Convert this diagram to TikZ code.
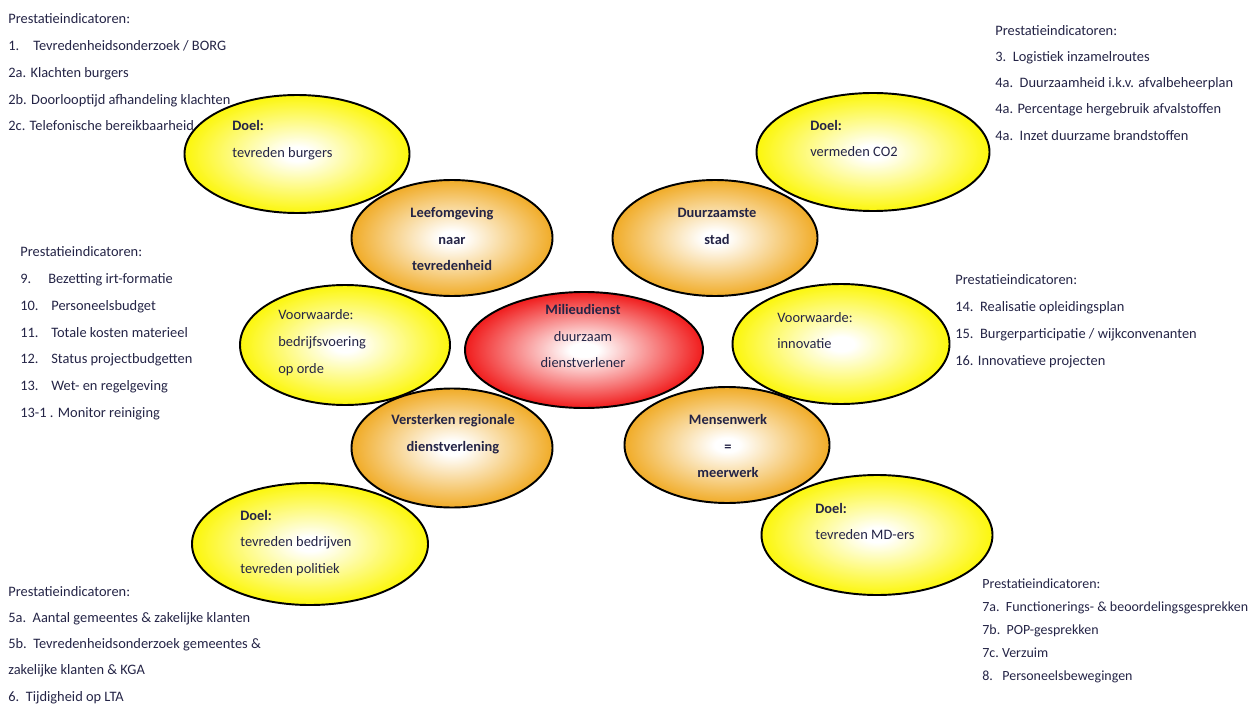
\documentclass[tikz,border=0pt]{standalone}
\usepackage{fontspec}
\setmainfont{Carlito}
\usetikzlibrary{shapes.geometric}

\definecolor{txt}{RGB}{36,36,70}
\definecolor{geel}{RGB}{252,246,0}
\definecolor{oranje}{RGB}{240,168,30}
\definecolor{rood}{RGB}{240,18,18}
\pgfdeclareradialshading{geelglow}{\pgfpointorigin}{color(0bp)=(white); color(3bp)=(white); color(26bp)=(geel); color(50bp)=(geel)}
\pgfdeclareradialshading{oranjeglow}{\pgfpointorigin}{color(0bp)=(white); color(3bp)=(white); color(26bp)=(oranje); color(50bp)=(oranje)}
\pgfdeclareradialshading{roodglow}{\pgfpointorigin}{color(0bp)=(white); color(3bp)=(white); color(26bp)=(rood); color(50bp)=(rood)}

\begin{document}
\begin{tikzpicture}[
    every node/.style={font=\fontsize{8.2}{15.3}\selectfont, text=txt, inner sep=0pt},
    doel/.style={ellipse, draw=black, line width=1.1pt, shade, shading=geelglow},
    thema/.style={ellipse, draw=black, line width=1.1pt, shade, shading=oranjeglow},
    kern/.style={ellipse, draw=black, line width=1.1pt, shade, shading=roodglow},
    lijst/.style={anchor=north west, align=left},
    tekst/.style={anchor=west, align=left},
    kop/.style={align=center, font=\fontsize{8.2}{15.3}\selectfont\bfseries}]
  \useasboundingbox (0,0) rectangle (25.12,-14.12);

  % prestatieindicatoren
  \node[lijst] (pi1) at (0.16,-0.26) {Prestatieindicatoren:\\
    \makebox[0.5cm][l]{1.}Tevredenheidsonderzoek / BORG\\
    2a. Klachten burgers\\
    2b. Doorlooptijd afhandeling klachten\\
    2c. Telefonische bereikbaarheid};
  \node[lijst, font=\fontsize{8.2}{14.9}\selectfont] (pi3) at (19.90,-0.50) {Prestatieindicatoren:\\
    3.\ \ Logistiek inzamelroutes\\
    4a.\ \ Duurzaamheid i.k.v. afvalbeheerplan\\
    4a. Percentage hergebruik afvalstoffen\\
    4a.\ \ Inzet duurzame brandstoffen};
  \node[lijst] (pi9) at (0.40,-4.92) {Prestatieindicatoren:\\
    \makebox[0.56cm][l]{9.}Bezetting irt-formatie\\
    \makebox[0.62cm][l]{10.}Personeelsbudget\\
    \makebox[0.62cm][l]{11.}Totale kosten materieel\\
    \makebox[0.62cm][l]{12.}Status projectbudgetten\\
    \makebox[0.62cm][l]{13.}Wet- en regelgeving\\
    13-1 . Monitor reiniging};
  \node[lijst] (pi14) at (19.10,-5.48) {Prestatieindicatoren:\\
    14.\ \ Realisatie opleidingsplan\\
    15.\ \ Burgerparticipatie / wijkconvenanten\\
    16. Innovatieve projecten};
  \node[lijst, font=\fontsize{8.2}{14.9}\selectfont] (pi5) at (0.16,-11.72) {Prestatieindicatoren:\\
    5a.\ \ Aantal gemeentes \& zakelijke klanten\\
    5b.\ \ Tevredenheidsonderzoek gemeentes \&\\
    zakelijke klanten \& KGA\\
    6.\ \ Tijdigheid op LTA};
  \node[lijst, font=\fontsize{7.95}{13.2}\selectfont] (pi7) at (19.64,-11.56) {Prestatieindicatoren:\\
    7a.\ \ Functionerings- \& beoordelingsgesprekken\\
    7b.\ \ POP-gesprekken\\
    7c.\ Verzuim\\
    \makebox[0.4cm][l]{8.}Personeelsbewegingen};

  % ellipsen
  \node[doel, minimum width=4.50cm, minimum height=2.36cm] (doelburgers) at (5.94,-3.08) {};
  \node[doel, minimum width=4.66cm, minimum height=2.36cm] (doelco2) at (17.46,-3.04) {};
  \node[doel, minimum width=4.20cm, minimum height=2.40cm] (vwbedrijf) at (6.90,-6.90) {};
  \node[doel, minimum width=4.34cm, minimum height=2.40cm] (vwinnovatie) at (16.82,-6.88) {};
  \node[doel, minimum width=4.72cm, minimum height=2.44cm] (doelbedrijven) at (6.20,-10.88) {};
  \node[doel, minimum width=4.62cm, minimum height=2.40cm] (doelmders) at (17.54,-10.70) {};
  \node[thema, minimum width=4.02cm, minimum height=2.32cm] (leefomgeving) at (9.04,-4.76) {};
  \node[thema, minimum width=4.10cm, minimum height=2.32cm] (duurzaam) at (14.30,-4.76) {};
  \node[thema, minimum width=4.02cm, minimum height=2.38cm] (versterken) at (9.04,-8.96) {};
  \node[thema, minimum width=4.10cm, minimum height=2.32cm] (mensenwerk) at (14.54,-8.90) {};
  \node[kern, minimum width=4.76cm, minimum height=2.32cm] (milieudienst) at (11.68,-7.00) {};

  % teksten
  \node[tekst] (burgerstxt) at (4.64,-2.81) {\textbf{Doel:}\\tevreden burgers};
  \node[tekst] (co2txt) at (16.20,-2.77) {\textbf{Doel:}\\vermeden CO2};
  \node[tekst] (bedrijftxt) at (5.56,-6.86) {Voorwaarde:\\bedrijfsvoering\\op orde};
  \node[tekst] (innovatietxt) at (15.54,-6.61) {Voorwaarde:\\innovatie};
  \node[tekst] (bedrijventxt) at (4.80,-10.86) {\textbf{Doel:}\\tevreden bedrijven\\tevreden politiek};
  \node[tekst] (mderstxt) at (16.30,-10.43) {\textbf{Doel:}\\tevreden MD-ers};
  \node[kop] (leeftxt) at (9.04,-4.78) {Leefomgeving\\naar\\tevredenheid};
  \node[kop] (duurtxt) at (14.34,-4.52) {Duurzaamste\\stad};
  \node[kop] (verstxt) at (9.06,-8.68) {Versterken regionale\\dienstverlening};
  \node[kop] (menstxt) at (14.56,-8.92) {Mensenwerk\\=\\meerwerk};
  \node[align=center] (milieutxt) at (11.66,-6.72) {\textbf{Milieudienst}\\duurzaam\\dienstverlener};
\end{tikzpicture}
\end{document}
